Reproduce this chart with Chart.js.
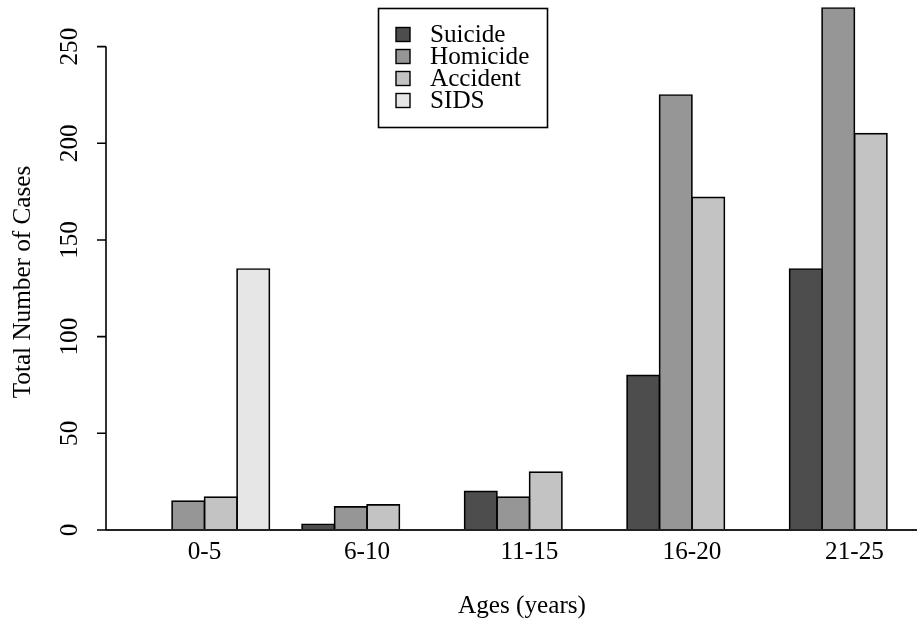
<!DOCTYPE html>
<html>
<head>
<meta charset="utf-8">
<script src="https://cdn.jsdelivr.net/npm/chart.js@4.4.0/dist/chart.umd.min.js"></script>
<style>
  html, body { margin: 0; padding: 0; background: #fff; overflow: hidden; }
  #wrap { width: 960px; height: 634px; }
</style>
</head>
<body>
<div id="wrap"><canvas id="myChart" width="960" height="634"></canvas></div>
<script>
const ageGroups = ['0-5', '6-10', '11-15', '16-20', '21-25'];
const suicide   = [0, 3, 20, 80, 135];
const homicide  = [15, 12, 17, 225, 270];
const accident  = [17, 13, 30, 172, 205];
const sids      = [135, 0, 0, 0, 0];
const yTicks    = [0, 50, 100, 150, 200, 250];

const serif = '"Liberation Serif", "Times New Roman", serif';
const fontSize = 25.2;

// y axis drawn R-style: detached line, rotated labels, plus axis titles
const rAxisPlugin = {
    id: 'rAxis',
    afterDatasetsDraw(chart) {
        const ctx = chart.ctx;
        const y = chart.scales.y;
        const axisX = 106;
        ctx.save();
        // baseline at 0
        ctx.strokeStyle = '#222';
        ctx.lineWidth = 2;
        ctx.beginPath();
        ctx.moveTo(axisX, y.getPixelForValue(0));
        ctx.lineTo(chart.width, y.getPixelForValue(0));
        ctx.stroke();

        ctx.strokeStyle = '#000';
        ctx.lineWidth = 1.6;
        ctx.beginPath();
        ctx.moveTo(axisX, y.getPixelForValue(yTicks[0]));
        ctx.lineTo(axisX, y.getPixelForValue(yTicks[yTicks.length - 1]));
        yTicks.forEach(v => {
            const py = y.getPixelForValue(v);
            ctx.moveTo(axisX, py);
            ctx.lineTo(axisX - 9, py);
        });
        ctx.stroke();

        ctx.fillStyle = '#000';
        ctx.font = fontSize + 'px ' + serif;
        ctx.textAlign = 'center';
        ctx.textBaseline = 'middle';
        yTicks.forEach(v => {
            ctx.save();
            ctx.translate(70, y.getPixelForValue(v));
            ctx.rotate(-Math.PI / 2);
            ctx.fillText(String(v), 0, 0);
            ctx.restore();
        });
        ctx.save();
        ctx.translate(23, 282);
        ctx.rotate(-Math.PI / 2);
        ctx.fillText('Total Number of Cases', 0, 0);
        ctx.restore();

        ctx.fillText('Ages (years)', 522, 606);
        ctx.restore();
    }
};

// boxed legend, top centre
const boxLegendPlugin = {
    id: 'boxLegend',
    afterDraw(chart) {
        const ctx = chart.ctx;
        ctx.save();
        ctx.strokeStyle = '#000';
        ctx.lineWidth = 1.6;
        ctx.strokeRect(378.5, 8.5, 169, 119);
        ctx.font = fontSize + 'px ' + serif;
        ctx.textAlign = 'left';
        ctx.textBaseline = 'middle';
        chart.data.datasets.forEach((ds, i) => {
            const cy = 34.5 + i * 22;
            ctx.fillStyle = ds.backgroundColor;
            ctx.fillRect(396, cy - 7, 14, 14);
            ctx.lineWidth = 1.4;
            ctx.strokeRect(396, cy - 7, 14, 14);
            ctx.fillStyle = '#000';
            ctx.fillText(ds.label, 430, cy + 1);
        });
        ctx.restore();
    }
};

const barStyle = {
    borderColor: '#000',
    borderWidth: 1.7,
    inflateAmount: 0.8,
    barPercentage: 1.0,
    categoryPercentage: 0.8
};

new Chart(document.getElementById('myChart'), {
    type: 'bar',
    data: {
        labels: ageGroups,
        datasets: [
            { label: 'Suicide',  data: suicide,  backgroundColor: '#4d4d4d', ...barStyle },
            { label: 'Homicide', data: homicide, backgroundColor: '#969696', ...barStyle },
            { label: 'Accident', data: accident, backgroundColor: '#c3c3c3', ...barStyle },
            { label: 'SIDS',     data: sids,     backgroundColor: '#e6e6e6', ...barStyle }
        ]
    },
    options: {
        responsive: false,
        animation: false,
        layout: { padding: { left: 123.25, right: 24.25, top: 0, bottom: 0 } },
        plugins: { legend: { display: false }, tooltip: { enabled: false } },
        scales: {
            x: {
                grid: { display: false, drawTicks: false },
                border: { display: false },
                ticks: { color: '#000', padding: 7, font: { family: serif, size: fontSize } },
                afterFit: (scale) => { scale.height = 104; }
            },
            y: {
                display: false,
                min: 0,
                max: 274.1
            }
        }
    },
    plugins: [rAxisPlugin, boxLegendPlugin]
});
</script>
</body>
</html>
